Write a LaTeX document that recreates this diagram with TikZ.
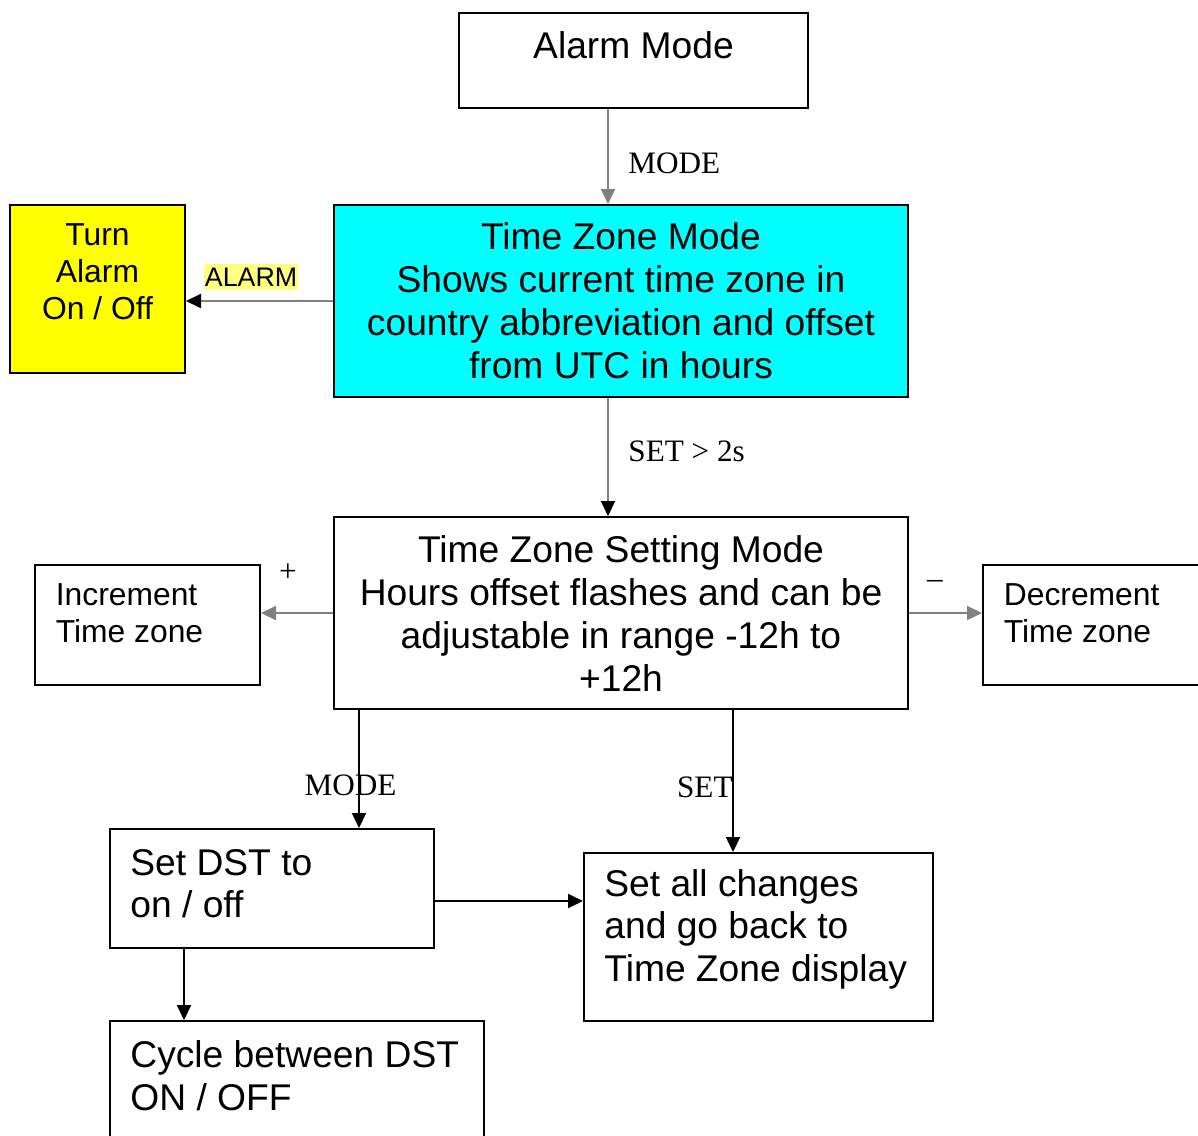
\documentclass[tikz,border=0pt]{standalone}
\usepackage{fontspec}
\setmainfont{Liberation Sans}
\newfontfamily\seriffont{Liberation Serif}
\usetikzlibrary{arrows.meta,fit}
\definecolor{gr}{RGB}{128,128,128}
\definecolor{cyanfill}{RGB}{0,255,255}
\definecolor{yelfill}{RGB}{255,255,0}
\definecolor{hilite}{RGB}{255,255,128}
\tikzset{
  box/.style={draw=black, line width=1pt, inner sep=0pt, rectangle},
  bigtxt/.style={font=\fontsize{18.6}{21.5}\selectfont, inner sep=0pt, align=center},
  bigleft/.style={font=\fontsize{18.6}{21.2}\selectfont, inner sep=0pt, align=left, anchor=west},
  smalltxt/.style={font=\fontsize{15.9}{18.5}\selectfont, inner sep=0pt, align=center},
  smallleft/.style={font=\fontsize{15.9}{18.5}\selectfont, inner sep=0pt, align=left, anchor=west},
  lab/.style={font=\seriffont\fontsize{15.6}{18}\selectfont, inner sep=0pt},
  arr/.style={-{Triangle[length=7.5pt,width=7pt]}, line width=1pt, draw=black},
  garr/.style={-{Triangle[length=7.5pt,width=7pt]}, line width=1pt, draw=gr},
  gbarr/.style={-{Triangle[length=7.5pt,width=7pt,color=black]}, line width=1pt, draw=gr},
}
\begin{document}
\begin{tikzpicture}[x=0.5pt,y=-0.5pt]
\useasboundingbox (0,0) rectangle (1198,1135);
\clip (0,0) rectangle (1198,1135);
% boxes
\node[box, fit={(459,13) (808,108)}] (alarm) {};
\node[box, fill=cyanfill, fit={(334,205) (908,397)}] (tzm) {};
\node[box, fill=yelfill, fit={(10,205) (185,373)}] (turn) {};
\node[box, fit={(334,517) (908,709)}] (tzs) {};
\node[box, fit={(35,565) (260,685)}] (inc) {};
\node[box, fit={(983,565) (1230,685)}] (dec) {};
\node[box, fit={(110,829) (434,948)}] (dst) {};
\node[box, fit={(584,853) (933,1021)}] (setall) {};
\node[box, fit={(110,1021) (484,1160)}] (cycle) {};
% texts
\node[bigtxt] (talarm) at (633.5,45) {Alarm Mode};
\node[bigtxt] (ttzm) at (621,301) {Time Zone Mode\\Shows current time zone in\\country abbreviation and offset\\from UTC in hours};
\node[smalltxt] (tturn) at (97.5,271.5) {Turn\\Alarm\\On / Off};
\node[bigtxt] (ttzs) at (621,614) {Time Zone Setting Mode\\Hours offset flashes and can be\\adjustable in range -12h to\\+12h};
\node[smallleft] (tinc) at (55.5,613) {Increment\\Time zone};
\node[smallleft] (tdec) at (1003.5,613) {Decrement\\Time zone};
\node[bigleft] (tdst) at (130,883.5) {Set DST to\\on / off};
\node[bigleft] (tsetall) at (604,929) {Set all changes\\and go back to\\Time Zone display};
\node[bigleft] (tcycle) at (130,1075.5) {Cycle between DST\\ON / OFF};
% connectors
\draw[garr] (608,0 |- alarm.south) -- (608,0 |- tzm.north);
\node[lab, anchor=west] (lmode1) at (628,163) {MODE};
\draw[gbarr] (tzm.west |- 0,301) -- (turn.east |- 0,301);
\node[font=\fontsize{13.4}{16}\selectfont, fill=hilite, inner xsep=0.5pt, inner ysep=2pt, anchor=west] (lalarm) at (203.5,277) {ALARM};
\draw[gbarr] (608,0 |- tzm.south) -- (608,0 |- tzs.north);
\node[lab, anchor=west] (lset2) at (628,451.5) {SET > 2s};
\draw[garr] (tzs.west |- 0,613) -- (inc.east |- 0,613);
\node[lab] (lplus) at (288,572.5) {+};
\draw[garr] (tzs.east |- 0,613) -- (dec.west |- 0,613);
\node[lab] (lminus) at (935,584) {–};
\draw[arr] (359,0 |- tzs.south) -- (359,0 |- dst.north);
\node[lab] (lmode2) at (350.5,785.5) {MODE};
\draw[arr] (733,0 |- tzs.south) -- (733,0 |- setall.north);
\node[lab, anchor=east] (lset) at (733,787.5) {SET};
\draw[arr] (dst.east |- 0,901) -- (setall.west |- 0,901);
\draw[arr] (184,0 |- dst.south) -- (184,0 |- cycle.north);
\end{tikzpicture}
\end{document}
